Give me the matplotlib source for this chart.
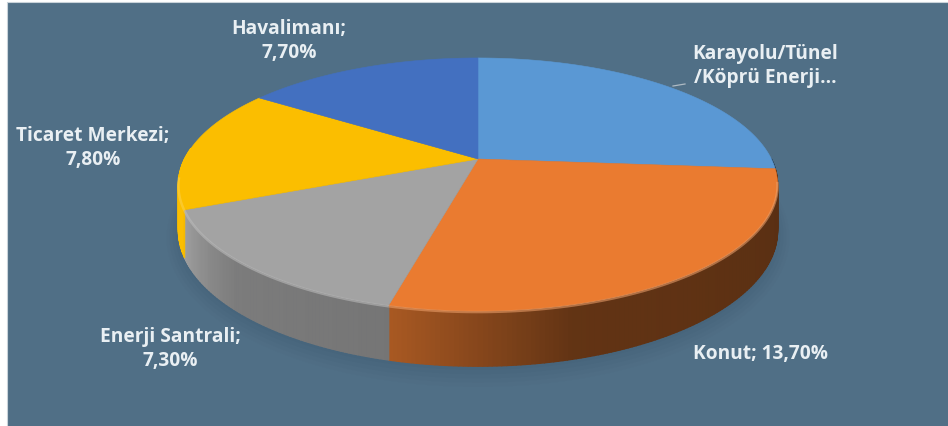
import numpy as np
import matplotlib
matplotlib.use("Agg")
import matplotlib.pyplot as plt
from matplotlib.patches import Polygon, Rectangle
from matplotlib.collections import PolyCollection

labels = ["Karayolu/Tünel\n/Köprü Enerji...", "Konut; 13,70%", "Enerji Santrali;\n7,30%",
          "Ticaret Merkezi;\n7,80%", "Havalimanı;\n7,70%"]
values = [13.0, 13.7, 7.3, 7.8, 7.7]   # first slice's label is cut off: value estimated
colors = ["#5A98D4", "#EA7B30", "#A3A3A3", "#FBBE00", "#4370C0"]
label_xy = [(765, 66), (761, 354), (170, 349), (93, 148), (289, 41)]

BG = "#506F86"
CX, CY = 478, 160
A, B, K = 293.4, 121.4, 0.2016
DEPTH = 44

def proj(th, depth=0.0):
    r = np.radians(th)
    X, Y = np.sin(r), np.cos(r)
    w = 1 + K * Y
    return CX + A * X / w, CY - B * Y / w + depth / w

def wall_shade(th):
    return np.interp(th, [100, 165, 194, 225, 250, 262], [.38, .42, .72, .76, 1.0, 1.0])

fig = plt.figure(figsize=(9.48, 4.27), dpi=100, facecolor="white")
ax = fig.add_axes([0, 0, 1, 1])
ax.set_xlim(0, 948)
ax.set_ylim(427, 0)
ax.axis("off")
ax.add_patch(Rectangle((7, 3), 945, 428, fc=BG, ec="#C9D3DA", lw=0.8, zorder=0))

edges = np.concatenate([[0], np.cumsum(values)]) / np.sum(values) * 360

# soft shadow below the pie
circle = np.linspace(0, 360, 241)
for grow, a in zip([12, 9, 6, 3, 0], [.02, .025, .03, .035, .04]):
    sx, sy = proj(circle, DEPTH + 3)
    sx = CX + (sx - CX) * (1 + grow / 300)
    sy = (CY + 25) + (sy - (CY + 25)) * (1 + grow / 130)
    ax.add_patch(Polygon(np.c_[sx, sy], fc="#20384C", ec="none", alpha=a, zorder=1))

# side wall, drawn slice by slice as thin shaded strips
for i, col in enumerate(colors):
    lo, hi = max(edges[i], 90), min(edges[i + 1], 275)
    if hi <= lo:
        continue
    ths = np.arange(lo, hi + 0.75, 0.75)
    ths[-1] = hi
    rgb = np.array(matplotlib.colors.to_rgb(col))
    polys, cols = [], []
    for t0, t1 in zip(ths[:-1], ths[1:]):
        x0, y0 = proj(t0); x1, y1 = proj(t1)
        x2, y2 = proj(t1, DEPTH); x3, y3 = proj(t0, DEPTH)
        polys.append([(x0, y0), (x1, y1), (x2, y2), (x3, y3)])
        cols.append(rgb * wall_shade((t0 + t1) / 2))
    ax.add_collection(PolyCollection(polys, facecolors=cols, edgecolors=cols, linewidths=1.0, zorder=2))

# top face
for i, col in enumerate(colors):
    ths = np.linspace(edges[i], edges[i + 1], 120)
    x, y = proj(ths)
    pts = np.vstack([[CX, CY], np.c_[x, y]])
    ax.add_patch(Polygon(pts, fc=col, ec=col, lw=0.4, zorder=3))

# bevel highlight along the front rim
for i, col in enumerate(colors):
    lo, hi = max(edges[i], 100), min(edges[i + 1], 262)
    if hi <= lo:
        continue
    ths = np.linspace(lo, hi, 100)
    x, y = proj(ths)
    base = np.array(matplotlib.colors.to_rgb(col))
    light = base + (1 - base) * 0.3
    ax.plot(x, y + 1.0, color=light, lw=1.8, alpha=.55, zorder=4, solid_capstyle="butt")

# labels and the leader stub
for txt, (x, y) in zip(labels, label_xy):
    ax.text(x, y, txt, ha="center", va="center", color="#E9EFF3", fontsize=13.8,
            fontweight="bold", family="Open Sans", linespacing=1.22, zorder=6)
ax.plot([673, 685], [87, 85], color="#AEBAC3", lw=0.9, zorder=5)

fig.savefig("out.png", dpi=100, facecolor="white")
